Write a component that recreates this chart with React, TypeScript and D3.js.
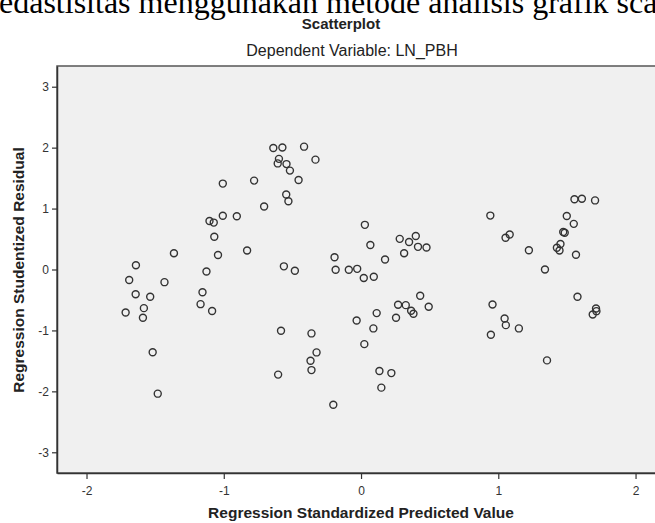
import React, { useEffect, useRef } from "react";
import * as d3 from "d3";

// standardized predicted value (x) and studentized residual (y)
const predicted = [
  -1.007, -0.779, -1.104, -1.073, -1.007, -0.905, -1.069, -1.363, -1.042, -0.83,
  -1.64, -1.126, -0.639, -0.573, -0.415, -0.598, -0.607, -0.543, -0.518, -0.332,
  -0.455, -0.545, -0.529, -0.706, 0.028, 0.068, 0.282, 0.399, 0.35, 0.415,
  0.477, 0.314, 0.175, -0.193, -0.562, -0.482, -0.185, -0.089, -0.028, 0.02,
  0.093, 1.555, 1.609, 1.705, 0.942, 1.499, 1.55, 1.473, 1.484, 1.053,
  1.083, 1.223, 1.453, 1.427, 1.446, 1.566, 1.34, -1.689, -1.432, -1.642,
  -1.536, -1.155, -1.169, -1.085, -1.582, -1.715, -1.589, -1.518, -1.481, 0.431,
  0.27, 0.326, 0.365, 0.382, 0.493, 0.114, 0.255, -0.032, 0.09, 0.024,
  -0.583, -0.361, -0.324, -0.368, -0.361, -0.604, 0.134, 0.221, 0.148, -0.202,
  1.577, 1.712, 1.715, 1.688, 0.958, 1.046, 1.055, 1.15, 0.946, 1.355,
];
const residual = [
  1.41, 1.459, 0.795, 0.77, 0.882, 0.874, 0.538, 0.266, 0.238, 0.311,
  0.07, -0.033, 1.995, 2.003, 2.016, 1.816, 1.741, 1.73, 1.623, 1.803,
  1.47, 1.23, 1.12, 1.033, 0.733, 0.402, 0.503, 0.549, 0.451, 0.372,
  0.361, 0.266, 0.164, 0.202, 0.052, -0.021, -0.003, -0.003, 0.011, -0.139,
  -0.12, 1.152, 1.161, 1.134, 0.885, 0.877, 0.749, 0.615, 0.603, 0.52,
  0.574, 0.315, 0.418, 0.357, 0.311, 0.241, 0.0, -0.172, -0.208, -0.405,
  -0.448, -0.374, -0.569, -0.68, -0.634, -0.705, -0.792, -1.357, -2.038, -0.431,
  -0.579, -0.585, -0.677, -0.726, -0.611, -0.716, -0.792, -0.836, -0.967, -1.225,
  -1.005, -1.049, -1.361, -1.497, -1.651, -1.725, -1.667, -1.7, -1.939, -2.221,
  -0.448, -0.639, -0.684, -0.738, -0.574, -0.803, -0.913, -0.967, -1.07, -1.492,
];
const xTicks = [-2, -1, 0, 1, 2];
const yTicks = [-3, -2, -1, 0, 1, 2, 3];

const W = 655;
const H = 523;
const margin = { top: 66, right: -8, bottom: 50, left: 57 };

export default function App() {
  const ref = useRef<SVGSVGElement>(null);

  useEffect(() => {
    const svg = d3.select(ref.current);
    svg.selectAll("*").remove();

    const iw = W - margin.left - margin.right;
    const ih = H - margin.top - margin.bottom;

    const x = d3.scaleLinear().domain([-2.215, 2.2]).range([0, iw]);
    const y = d3.scaleLinear().domain([-3.34, 3.34]).range([ih, 0]);

    // page heading, cut off at the top like the scanned document
    svg.append("text")
      .attr("x", -1)
      .attr("y", 13)
      .attr("font-family", "'Liberation Serif', 'Times New Roman', serif")
      .attr("font-size", 32)
      .attr("fill", "#000")
      .text("edastisitas menggunakan metode analisis grafik scatterplot");

    svg.append("text")
      .attr("x", 341)
      .attr("y", 29)
      .attr("text-anchor", "middle")
      .attr("font-family", "'Liberation Sans', Arial, sans-serif")
      .attr("font-weight", "bold")
      .attr("font-size", 15)
      .attr("fill", "#222")
      .text("Scatterplot");

    svg.append("text")
      .attr("x", 352)
      .attr("y", 56)
      .attr("text-anchor", "middle")
      .attr("font-family", "'Liberation Sans', Arial, sans-serif")
      .attr("font-size", 16)
      .attr("fill", "#222")
      .text("Dependent Variable: LN_PBH");

    const g = svg.append("g").attr("transform", `translate(${margin.left},${margin.top})`);

    g.append("rect")
      .attr("width", iw)
      .attr("height", ih)
      .attr("fill", "#f0f0f0")
      .attr("stroke", "#555")
      .attr("stroke-width", 1.5);

    const fmt = (d: d3.NumberValue) => String(d);
    const xaxis = d3.axisBottom(x).tickValues(xTicks).tickSize(6).tickSizeOuter(0).tickFormat(fmt);
    const yaxis = d3.axisLeft(y).tickValues(yTicks).tickSize(5).tickSizeOuter(0).tickFormat(fmt);

    const gx = g.append("g").attr("transform", `translate(0,${ih})`).call(xaxis);
    const gy = g.append("g").call(yaxis);
    for (const ax of [gx, gy]) {
      ax.select(".domain").attr("stroke", "#333").attr("stroke-width", 1.5);
      ax.selectAll(".tick line").attr("stroke", "#333").attr("stroke-width", 1.2);
      ax.selectAll(".tick text")
        .attr("font-family", "'Liberation Sans', Arial, sans-serif")
        .attr("font-size", 12)
        .attr("fill", "#333");
    }
    gx.selectAll(".tick text").attr("dy", "1.1em");
    gy.selectAll(".tick text").attr("x", -8);

    g.append("g")
      .selectAll("circle")
      .data(predicted.map((p, i) => [p, residual[i]]))
      .join("circle")
      .attr("cx", (d) => x(d[0]))
      .attr("cy", (d) => y(d[1]))
      .attr("r", 3.5)
      .attr("fill", "none")
      .attr("stroke", "#333")
      .attr("stroke-width", 1.4);

    // axis titles
    svg.append("text")
      .attr("x", 361)
      .attr("y", 518)
      .attr("text-anchor", "middle")
      .attr("font-family", "'Liberation Sans', Arial, sans-serif")
      .attr("font-weight", "bold")
      .attr("font-size", 15.5)
      .attr("fill", "#222")
      .text("Regression Standardized Predicted Value");

    svg.append("text")
      .attr("transform", "translate(24,270) rotate(-90)")
      .attr("text-anchor", "middle")
      .attr("font-family", "'Liberation Sans', Arial, sans-serif")
      .attr("font-weight", "bold")
      .attr("font-size", 15.5)
      .attr("fill", "#222")
      .text("Regression Studentized Residual");
  }, []);

  return (
    <svg
      ref={ref}
      width={W}
      height={H}
      style={{ position: "fixed", left: 0, top: 0, background: "#fff" }}
    />
  );
}
